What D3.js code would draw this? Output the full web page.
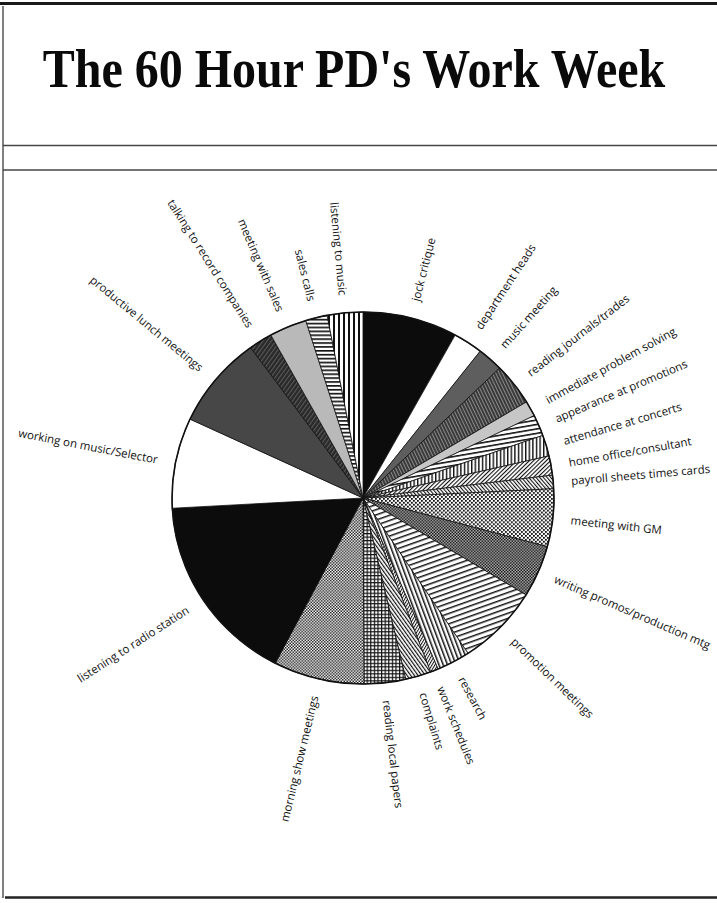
<!DOCTYPE html>
<html>
<head>
<meta charset="utf-8">
<script src="https://cdn.jsdelivr.net/npm/d3@7"></script>
<style>
  body { margin: 0; background: #fff; }
  svg { display: block; }
</style>
</head>
<body>
<div id="chart"></div>
<script>
/* global d3 */

// The 60 Hour PD's Work Week - hours per activity, clockwise from 12 o'clock

const activities = [
    "jock critique", "department heads", "music meeting", "reading journals/trades",
    "immediate problem solving", "appearance at promotions", "attendance at concerts",
    "home office/consultant", "payroll sheets times cards", "meeting with GM",
    "writing promos/production mtg", "promotion meetings", "research", "work schedules",
    "complaints", "reading local papers", "morning show meetings",
    "listening to radio station", "working on music/Selector", "productive lunch meetings",
    "talking to record companies", "meeting with sales", "sales calls", "listening to music"
];

const hours = [
    4.8, 1.5, 1.3, 2.2,
    0.8, 1.1, 1.1,
    1.0, 0.7, 3.0,
    2.7, 4.2, 1.7, 0.4,
    1.3, 2.1, 4.6,
    9.9, 4.7, 4.8,
    1.2, 1.9, 1.1, 1.8
];

// fill for each slice, same order as above
const sliceFill = [
    "#0c0c0c", "#ffffff", "#5e5e5e", "url(#p-journal)",
    "#c6c6c6", "url(#p-appear)", "url(#p-concert)",
    "url(#p-home)", "url(#p-payroll)", "url(#p-gm)",
    "url(#p-writing)", "url(#p-promo)", "url(#p-research)", "url(#p-work)",
    "url(#p-complaint)", "url(#p-grid)", "url(#p-morning)",
    "#0c0c0c", "#ffffff", "#474747",
    "url(#p-record)", "#b9b9b9", "url(#p-hline)", "url(#p-vline)"
];

const width = 717;
const height = 903;
const cx = 363, cy = 498, rx = 191, ry = 186;
const labelR = 209;

const svg = d3.select("#chart")
    .append("svg")
    .attr("width", width)
    .attr("height", height);

svg.append("rect").attr("width", width).attr("height", height).attr("fill", "#fff");

// patterns
const defs = svg.append("defs");

function stripes(id, size, lineW, angle, ink, paper) {
    const p = defs.append("pattern")
        .attr("id", id)
        .attr("patternUnits", "userSpaceOnUse")
        .attr("width", size).attr("height", size)
        .attr("patternTransform", "rotate(" + angle + ")");
    p.append("rect").attr("width", size).attr("height", size).attr("fill", paper || "#fff");
    p.append("rect").attr("width", lineW).attr("height", size).attr("fill", ink || "#111");
}

function checker(id, size, dot, ink, paper) {
    const p = defs.append("pattern")
        .attr("id", id)
        .attr("patternUnits", "userSpaceOnUse")
        .attr("width", size).attr("height", size);
    p.append("rect").attr("width", size).attr("height", size).attr("fill", paper || "#fff");
    p.append("rect").attr("width", dot).attr("height", dot).attr("fill", ink || "#111");
    p.append("rect").attr("x", size / 2).attr("y", size / 2)
        .attr("width", dot).attr("height", dot).attr("fill", ink || "#111");
}

stripes("p-vline", 5, 2, 0);            // listening to music
stripes("p-hline", 4, 1.7, 90);         // sales calls
stripes("p-appear", 4.5, 1.6, 80);      // appearance at promotions
stripes("p-concert", 3.6, 1.4, 0);      // attendance at concerts
stripes("p-home", 3, 1.1, 45);          // home office
stripes("p-payroll", 2.8, 1.1, -40);    // payroll
stripes("p-promo", 5, 1.5, 70);         // promotion meetings
stripes("p-research", 4, 1.5, -20);     // research
stripes("p-work", 2.5, 1, 30);          // work schedules
stripes("p-complaint", 3, 1.2, -35);    // complaints
stripes("p-journal", 3, 1, -25, "#8a8a8a", "#3a3a3a");
stripes("p-record", 3.5, 1, 35, "#5c5c5c", "#2a2a2a");
checker("p-gm", 4, 1.8, "#111", "#f4f4f4");
checker("p-writing", 3, 1.5, "#111", "#b4b4b4");
checker("p-morning", 3, 1.5, "#222", "#fafafa");

const grid = defs.append("pattern")
    .attr("id", "p-grid")
    .attr("patternUnits", "userSpaceOnUse")
    .attr("width", 3.6).attr("height", 3.6);
grid.append("rect").attr("width", 3.6).attr("height", 3.6).attr("fill", "#fff");
grid.append("rect").attr("width", 1.2).attr("height", 3.6).attr("fill", "#111");
grid.append("rect").attr("width", 3.6).attr("height", 1.2).attr("fill", "#111");

// frame
const frame = svg.append("g").attr("fill", "none");
frame.append("line").attr("x1", 0).attr("x2", width).attr("y1", 3.5).attr("y2", 3.5)
    .attr("stroke", "#1a1a1a").attr("stroke-width", 3);
frame.append("line").attr("x1", 3).attr("x2", 3).attr("y1", 6).attr("y2", 898)
    .attr("stroke", "#555").attr("stroke-width", 1.5);
frame.append("line").attr("x1", 3).attr("x2", width).attr("y1", 145.5).attr("y2", 145.5)
    .attr("stroke", "#444").attr("stroke-width", 1.3);
frame.append("line").attr("x1", 3).attr("x2", width).attr("y1", 170).attr("y2", 170)
    .attr("stroke", "#444").attr("stroke-width", 1.3);
frame.append("line").attr("x1", 5).attr("x2", width).attr("y1", 897.5).attr("y2", 897.5)
    .attr("stroke", "#222").attr("stroke-width", 2.5);

// title (the print is a bit condensed: stretch it upward)
svg.append("text")
    .attr("transform", "translate(354,87) scale(1,1.13)")
    .attr("text-anchor", "middle")
    .attr("font-family", "'Liberation Serif', 'Times New Roman', serif")
    .attr("font-weight", "bold")
    .attr("font-size", "48px")
    .attr("fill", "#0a0a0a")
    .text("The 60 Hour PD's Work Week");

// pie
const pie = d3.pie().sort(null).value(d => d);
const arcs = pie(hours);
const arc = d3.arc().innerRadius(0).outerRadius(rx);

const g = svg.append("g")
    .attr("transform", "translate(" + cx + "," + cy + ") scale(1," + (ry / rx) + ")");

g.selectAll("path")
    .data(arcs)
    .enter()
    .append("path")
    .attr("d", arc)
    .attr("fill", (d, i) => sliceFill[i])
    .attr("stroke", "#111")
    .attr("stroke-width", 0.8)
    .attr("stroke-linejoin", "round");

g.append("circle")
    .attr("r", rx)
    .attr("fill", "none")
    .attr("stroke", "#111")
    .attr("stroke-width", 1.6);

// radial labels: right half reads outward, left half reads inward
const labels = svg.append("g")
    .attr("font-family", "'Open Sans', 'DejaVu Sans', sans-serif")
    .attr("font-size", "11.5px")
    .attr("fill", "#111");

arcs.forEach((d, i) => {
    const mid = (d.startAngle + d.endAngle) / 2;
    const deg = mid * 180 / Math.PI;
    const right = deg < 180;
    const x = cx + labelR * Math.sin(mid);
    const y = cy - labelR * (ry / rx) * Math.cos(mid);
    const rot = right ? deg - 90 : deg + 90;
    labels.append("text")
        .attr("transform", "translate(" + x + "," + y + ") rotate(" + rot + ")")
        .attr("text-anchor", right ? "start" : "end")
        .attr("dominant-baseline", "central")
        .text(activities[i]);
});
</script>
</body>
</html>
